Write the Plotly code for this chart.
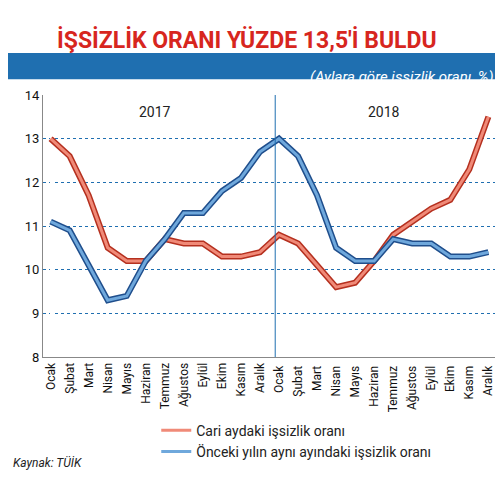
import plotly.graph_objects as go

months = ["Ocak", "Şubat", "Mart", "Nisan", "Mayıs", "Haziran", "Temmuz", "Ağustos",
          "Eylül", "Ekim", "Kasım", "Aralık"]
x_labels = months + [m + " " for m in months]
cari = [13.0, 12.6, 11.7, 10.5, 10.2, 10.2, 10.7, 10.6, 10.6, 10.3, 10.3, 10.4,
        10.8, 10.6, 10.1, 9.6, 9.7, 10.2, 10.8, 11.1, 11.4, 11.6, 12.3, 13.5]
onceki = [11.1, 10.9, 10.1, 9.3, 9.4, 10.2, 10.7, 11.3, 11.3, 11.8, 12.1, 12.7,
          13.0, 12.6, 11.7, 10.5, 10.2, 10.2, 10.7, 10.6, 10.6, 10.3, 10.3, 10.4]
xi = list(range(len(x_labels)))

fig = go.Figure()
# outline + fill lines
fig.add_trace(go.Scatter(x=xi, y=cari, mode="lines", line=dict(color="#b5301f", width=6),
                         showlegend=False, hoverinfo="skip"))
fig.add_trace(go.Scatter(x=xi, y=cari, mode="lines", line=dict(color="#f08a78", width=3),
                         name="Cari aydaki işsizlik oranı"))
fig.add_trace(go.Scatter(x=xi, y=onceki, mode="lines", line=dict(color="#1f4e8c", width=6),
                         showlegend=False, hoverinfo="skip"))
fig.add_trace(go.Scatter(x=xi, y=onceki, mode="lines", line=dict(color="#6fa8dc", width=3),
                         name="Önceki yılın aynı ayındaki işsizlik oranı"))

fig.add_vline(x=11.8, line=dict(color="#1f6fb0", width=1))
fig.add_annotation(x=5.5, y=13.6, text="2017", showarrow=False, font=dict(size=14, color="#222"))
fig.add_annotation(x=17.5, y=13.6, text="2018", showarrow=False, font=dict(size=14, color="#222"))

fig.add_annotation(xref="paper", yref="paper", x=0.45, y=1.27,
                   text="<b>İŞSİZLİK ORANI YÜZDE 13,5'İ BULDU</b>", showarrow=False,
                   font=dict(size=23, color="#d7261e", family="Roboto"))
fig.add_shape(type="rect", xref="paper", yref="paper", x0=-0.08, x1=1.04, y0=1.06, y1=1.16,
              fillcolor="#1f6fb0", line_width=0)
fig.add_annotation(xref="paper", yref="paper", x=1.0, y=1.11, xanchor="right",
                   text="<i>(Aylara göre işsizlik oranı, %)</i>", showarrow=False,
                   font=dict(size=15, color="white"))
fig.add_annotation(xref="paper", yref="paper", x=-0.07, y=-0.44, xanchor="left",
                   text="<i>Kaynak: TÜİK</i>", showarrow=False,
                   font=dict(size=12, color="#222"))

fig.update_layout(
    width=503, height=484, margin=dict(l=35, r=15, t=87, b=135),
    paper_bgcolor="white", plot_bgcolor="white",
    font=dict(family="Roboto", color="#222"),
    legend=dict(x=0.25, y=-0.22, xanchor="left", yanchor="top", font=dict(size=14),
                bgcolor="rgba(0,0,0,0)", tracegroupgap=0),
)
fig.update_xaxes(tickmode="array", tickvals=xi, ticktext=x_labels, tickangle=-90,
                 range=[-0.4, 23.4], showgrid=False, showline=True, linecolor="#888",
                 tickfont=dict(size=12, color="#111"))
fig.update_yaxes(range=[8, 14], dtick=1, showgrid=True, gridcolor="#1f6fb0", griddash="dot",
                 showline=True, linecolor="#888", tickfont=dict(size=13, color="#111"))

fig.write_html("out.html")
